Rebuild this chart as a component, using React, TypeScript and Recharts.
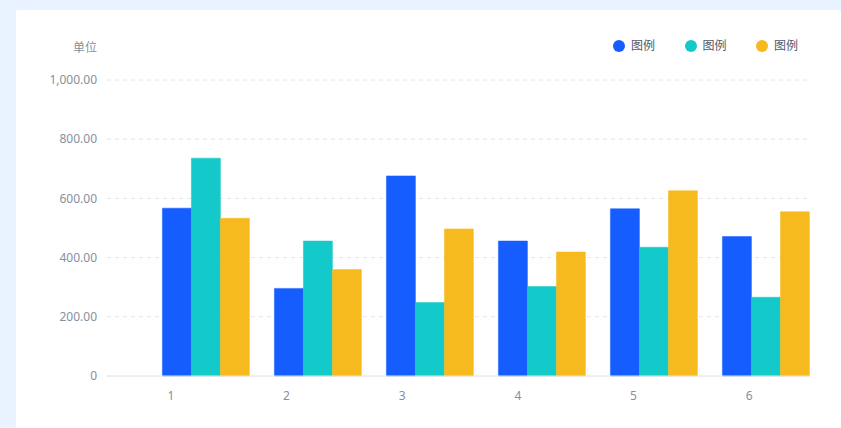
import React from "react";
import { BarChart, Bar, XAxis, YAxis, CartesianGrid } from "recharts";

// categories along the x axis
const categories = ["1", "2", "3", "4", "5", "6"];

// series values
const seriesBlue = [567, 296, 676, 456, 565, 471];
const seriesCyan = [736, 456, 248, 302, 435, 266];
const seriesGold = [533, 360, 497, 419, 626, 555];

const yTicks = [0, 200, 400, 600, 800, 1000];
const unitText = "单位";
const legendText = "图例";

const series = [
  { key: "blue", name: legendText, values: seriesBlue, color: "#165DFF" },
  { key: "cyan", name: legendText, values: seriesCyan, color: "#14C9C9" },
  { key: "gold", name: legendText, values: seriesGold, color: "#F7BA1E" },
];

const data = categories.map((name, i) => ({
  name,
  pos: i + 1,
  blue: seriesBlue[i],
  cyan: seriesCyan[i],
  gold: seriesGold[i],
}));

const FONT = '"Noto Sans", "Noto Sans CJK SC", sans-serif';

function formatTick(v: number) {
  if (v === 0) return "0";
  return v.toLocaleString("en-US", { minimumFractionDigits: 2, maximumFractionDigits: 2 });
}

export default function App() {
  return (
    <div
      style={{
        position: "relative",
        width: 841,
        height: 428,
        background: "#E8F3FF",
        overflow: "hidden",
        fontFamily: FONT,
      }}
    >
      <style>{"body{margin:0}"}</style>
      <div
        style={{
          position: "absolute",
          left: 16,
          top: 10,
          width: 825,
          height: 418,
          background: "#ffffff",
          borderRadius: 2,
        }}
      >
        <div
          style={{
            position: "absolute",
            left: 0,
            width: 81,
            top: 30,
            lineHeight: "16px",
            fontSize: 12,
            color: "#86909C",
            textAlign: "right",
          }}
        >
          {unitText}
        </div>

        {/* legend */}
        <div
          style={{
            position: "absolute",
            left: 597,
            top: 28,
            display: "flex",
            alignItems: "center",
            gap: 29.5,
          }}
        >
          {series.map((s) => (
            <div key={s.key} style={{ display: "flex", alignItems: "center", height: 16 }}>
              <span
                style={{
                  width: 12,
                  height: 12,
                  borderRadius: "50%",
                  background: s.color,
                  display: "inline-block",
                  marginRight: 6,
                }}
              />
              <span style={{ fontSize: 12, lineHeight: "16px", color: "#4E5969" }}>{s.name}</span>
            </div>
          ))}
        </div>

        <BarChart
          width={825}
          height={418}
          data={data}
          margin={{ top: 70, right: 31, bottom: 22, left: 11 }}
          barGap={0}
          barCategoryGap={12}
        >
          <CartesianGrid xAxisId="label" vertical={false} stroke="#E5E6EB" strokeDasharray="4 4" />
          <XAxis
            xAxisId="label"
            dataKey="name"
            height={30}
            padding={{ left: 6, right: 3 }}
            interval={0}
            axisLine={{ stroke: "#E5E6EB" }}
            tickLine={false}
            tickMargin={9}
            tick={{ fill: "#86909C", fontSize: 12, fontFamily: FONT }}
          />
          <XAxis
            xAxisId="bar"
            dataKey="pos"
            type="number"
            domain={[0.1125, 6.389]}
            allowDataOverflow
            height={0}
            hide
          />
          <YAxis
            width={80}
            domain={[0, 1000]}
            ticks={yTicks}
            tickFormatter={formatTick}
            axisLine={false}
            tickLine={false}
            tickMargin={4}
            tick={{ fill: "#86909C", fontSize: 12, fontFamily: FONT }}
          />
          {series.map((s) => (
            <Bar
              key={s.key}
              xAxisId="bar"
              dataKey={s.key}
              name={s.name}
              fill={s.color}
              stroke={s.color}
              strokeWidth={0.5}
              isAnimationActive={false}
            />
          ))}
        </BarChart>
      </div>
    </div>
  );
}
